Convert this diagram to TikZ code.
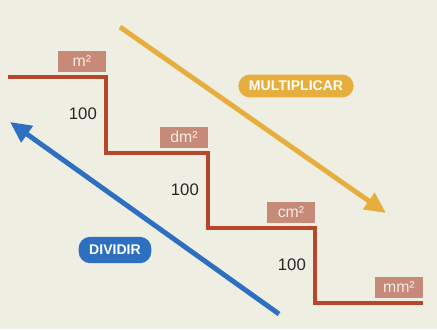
\documentclass[tikz,border=0pt]{standalone}
\usepackage{fontspec}
\setmainfont{Liberation Sans}
\usepackage{tikz}
\usetikzlibrary{arrows.meta}

\definecolor{paper}{HTML}{EFEEE2}
\definecolor{stair}{HTML}{B8462A}
\definecolor{unitbox}{HTML}{C78A79}
\definecolor{unittext}{HTML}{F7ECE6}
\definecolor{mult}{HTML}{E6AE3C}
\definecolor{divi}{HTML}{2D6FC1}

\tikzset{
  unitlabel/.style={fill=unitbox, text=unittext, minimum width=27pt, minimum height=12pt,
    inner sep=1pt, font=\fontsize{9}{10}\selectfont, anchor=south east},
  factor/.style={anchor=east, font=\fontsize{9.5}{11}\selectfont, text=black!85},
  pill/.style={text=white, rounded corners=6.5pt, inner xsep=6pt, inner ysep=3pt,
    minimum height=13pt, font=\bfseries\fontsize{8}{9}\selectfont},
  bigarrow/.style={line width=2.8pt, -{Triangle[length=12pt,width=11pt]}}
}

\begin{document}
\begin{tikzpicture}[x=0.02cm, y=-0.02cm]
  % Background (pixel grid of the reference)
  \fill[paper] (0,0) rectangle (437,329);
  \useasboundingbox (0,0) rectangle (437,329);

  % Corners of the staircase
  \coordinate (s0) at (8,77);
  \coordinate (s1) at (106,77);
  \coordinate (s2) at (106,153);
  \coordinate (s3) at (208,153);
  \coordinate (s4) at (208,228);
  \coordinate (s5) at (315,228);
  \coordinate (s6) at (315,303);
  \coordinate (s7) at (423,303);

  % Draw the staircase
  \draw[stair, line width=2.3pt, line join=miter]
    (s0) -- (s1) -- (s2) -- (s3) -- (s4) -- (s5) -- (s6) -- (s7);

  % Unit labels on each step
  \node[unitlabel] (um)  at (106,72)  {m²};
  \node[unitlabel] (udm) at (208,148) {dm²};
  \node[unitlabel] (ucm) at (315,223) {cm²};
  \node[unitlabel] (umm) at (423,298) {mm²};

  % Factor between two units
  \foreach \x/\y [count=\i] in {106/114, 208/190, 315/265} {
    \node[factor] (f\i) at (\x-3,\y) {100};
  }

  % Arrows
  \coordinate (mstart) at (120,27);
  \coordinate (mend)   at (386,213);
  \coordinate (dstart) at (279,314);
  \coordinate (dend)   at (10,122);
  \draw[bigarrow, mult] (mstart) -- (mend);
  \draw[bigarrow, divi] (dstart) -- (dend);

  % Direction labels
  \node[pill, fill=mult] (multlabel) at (296,86)  {MULTIPLICAR};
  \node[pill, fill=divi, minimum height=15pt] (divlabel) at (115,250) {DIVIDIR};
\end{tikzpicture}
\end{document}
